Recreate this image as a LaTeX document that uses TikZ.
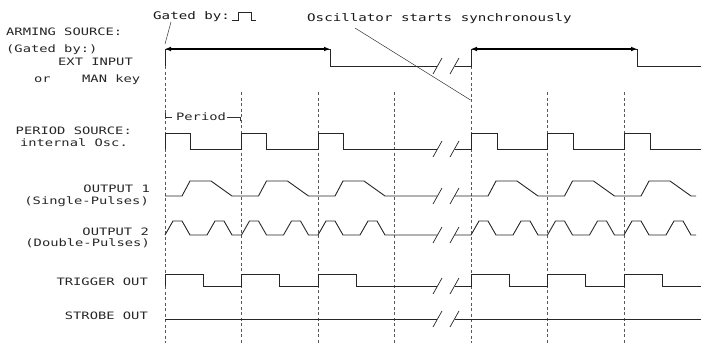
\documentclass[tikz,border=0pt]{standalone}
\usepackage{fontspec}
\newfontfamily\plotfont[FakeStretch=1.35]{DejaVu Sans Mono}
\usetikzlibrary{arrows.meta}
\begin{document}
\begin{tikzpicture}[x=1pt,y=-1pt,
  sig/.style={line width=0.9pt, black!85, line join=miter},
  gridline/.style={line width=0.6pt, black!65, dash pattern=on 3pt off 2.5pt},
  brk/.style={line width=0.7pt, black!85},
  lbl/.style={font=\plotfont\fontsize{10.2}{12}\selectfont, inner sep=0pt, text=black!85},
  note/.style={font=\plotfont\fontsize{10.5}{12}\selectfont, inner sep=0pt, text=black!90},
  lead/.style={line width=0.5pt, black!80},
  spanarrow/.style={line width=1.3pt, black, {Latex[length=6pt,width=5pt]}-{Latex[length=6pt,width=5pt]}}
]
\useasboundingbox (0,0) rectangle (701,343);

% ---------- labels ----------
\node[lbl, anchor=base west] (armA) at (6,35.5) {ARMING SOURCE:};
\node[lbl, anchor=base west] (armB) at (6,52.5) {(Gated by:)};
\node[lbl, anchor=base west] (armC) at (58,65.5) {EXT INPUT};
\node[lbl, anchor=base west] (armD) at (34,82.5) {or};
\node[lbl, anchor=base west] (armE) at (82,82.5) {MAN key};
\node[lbl, anchor=base east] (perA) at (132,134.5) {PERIOD SOURCE:};
\node[lbl, anchor=base east] (perB) at (128,146.5) {internal Osc.};
\node[lbl, anchor=base east] (outA) at (150,192.5) {OUTPUT 1};
\node[lbl, anchor=base east] (outB) at (149,204.5) {(Single-Pulses)};
\node[lbl, anchor=base east] (outC) at (149,235.5) {OUTPUT 2};
\node[lbl, anchor=base east] (outD) at (150,246.5) {(Double-Pulses)};
\node[lbl, anchor=base east] (trg) at (148,285.5) {TRIGGER OUT};
\node[lbl, anchor=base east] (stb) at (148,319.5) {STROBE OUT};
\node[note, anchor=base west] (gated) at (153,19.5) {Gated by:};
\node[note, anchor=base west] (osc) at (307,21) {Oscillator starts synchronously};
\node[lbl, anchor=center] (period) at (201,117) {Period};

% ---------- dashed period grid ----------
\draw[gridline] (165,66) -- (165,343);
\draw[gridline] (471,66) -- (471,343);
\foreach \x in {241.5,318,394.5,547.5,624}
  \draw[gridline] (\x,92) -- (\x,343);

% period dimension marks
\draw[lead] (165,113) -- (165,117) -- (172,117);
\draw[lead] (227,117) -- (240.5,117) -- (240.5,121);

% ---------- arming source ----------
\draw[sig] (165,66) -- (165,49) -- (330,49) -- (330,66) -- (437,66);
\draw[sig] (454.5,66) -- (471,66) -- (471,49) -- (637,49) -- (637,66) -- (701,66);
\draw[spanarrow] (165,49) -- (330,49);
\draw[spanarrow] (471,49) -- (637,49);

% ---------- period source ----------
\draw[sig] (165,149) \foreach \t in {165,241.5,318} { -- (\t,149) -- (\t,133) -- ({\t+25},133) -- ({\t+25},149) } -- (437,149);
\draw[sig] (454.5,149) \foreach \t in {471,547.5,624} { -- (\t,149) -- (\t,133) -- ({\t+26},133) -- ({\t+26},149) } -- (701,149);

% ---------- output 1 ----------
\draw[sig] (165,196) \foreach \t in {165,241.5,318} { -- (\t,196) -- ({\t+17},196) -- ({\t+25},181) -- ({\t+46},181) -- ({\t+67},196) } -- (437,196);
\draw[sig] (454.5,196) \foreach \t in {471,547.5,624} { -- (\t,196) -- ({\t+17},196) -- ({\t+25},181) -- ({\t+46},181) -- ({\t+67},196) } -- (696,196);

% ---------- output 2 ----------
\draw[sig] (165,235) \foreach \t in {165,241.5,318} { -- (\t,235) -- ({\t+8},221) -- ({\t+17},221) -- ({\t+25},235) -- ({\t+42},235) -- ({\t+50},221) -- ({\t+59},221) -- ({\t+67},235) } -- (437,235);
\draw[sig] (454.5,235) \foreach \t in {471,547.5,624} { -- (\t,235) -- ({\t+8},221) -- ({\t+17},221) -- ({\t+25},235) -- ({\t+42},235) -- ({\t+50},221) -- ({\t+59},221) -- ({\t+67},235) } -- (696,235);

% ---------- trigger out ----------
\draw[sig] (165,286) \foreach \t in {165,241.5,318} { -- (\t,286) -- (\t,274) -- ({\t+38},274) -- ({\t+38},286) } -- (437,286);
\draw[sig] (454.5,286) \foreach \t in {471,547.5,624} { -- (\t,286) -- (\t,274) -- ({\t+38},274) -- ({\t+38},286) } -- (701,286);

% ---------- strobe out ----------
\draw[sig] (165,319) -- (437,319);
\draw[sig] (454.5,319) -- (701,319);

% ---------- break marks ----------
\foreach \y in {66,149,196,235,286,319} {
  \draw[brk] (433,\y+8) -- (442,\y-8);
  \draw[brk] (450,\y+8) -- (459,\y-8);
}

% ---------- annotations ----------
\coordinate (gtip) at (165,44);
\coordinate (otip) at (470.5,100);
\draw[lead] (171,22) -- (gtip);
\draw[lead] (355,28) -- (otip);
\draw[line width=0.9pt, black!85] (231.5,20) -- (238.5,20) -- (238.5,12.5) -- (251.5,12.5) -- (251.5,20) -- (256,20);
\end{tikzpicture}
\end{document}
